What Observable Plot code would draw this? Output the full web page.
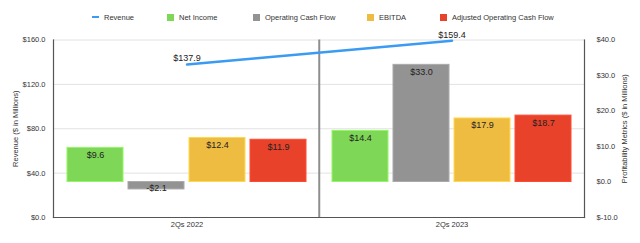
<!DOCTYPE html>
<html>
<head>
<meta charset="utf-8">
<script src="https://cdn.jsdelivr.net/npm/d3@7"></script>
<script src="https://cdn.jsdelivr.net/npm/@observablehq/plot@0.6"></script>
<style>
  body { margin: 0; background: #fff; font-family: "Liberation Sans", Arial, Helvetica, sans-serif; }
  #wrap { position: relative; width: 640px; height: 243px; overflow: hidden; }
  #legend { position: absolute; left: 0; top: 0; width: 640px; height: 30px; font-size: 7.5px; color: #333; }
  .item { position: absolute; top: 13px; height: 9px; line-height: 9px; white-space: nowrap; }
  .sw { display: inline-block; width: 7px; height: 7px; vertical-align: middle; margin-right: 5px; position: relative; top: -1px; }
  .ln { display: inline-block; width: 7px; height: 2px; vertical-align: middle; margin-right: 5px; position: relative; top: -1px; }
  .layer { position: absolute; left: 0; top: 30px; }
</style>
</head>
<body>
<div id="wrap">
  <div id="legend"></div>
  <div id="layerBottom" class="layer"></div>
  <div id="layerTop" class="layer"></div>
</div>
<script>
const categories = ["2Qs 2022", "2Qs 2023"];
const revenue = [137.9, 159.4];
const seriesNames = ["Net Income", "Operating Cash Flow", "EBITDA", "Adjusted Operating Cash Flow"];
const netIncome = [9.6, 14.4];
const operatingCashFlow = [-2.1, 33.0];
const ebitda = [12.4, 17.9];
const adjustedOperatingCashFlow = [11.9, 18.7];
const seriesColors = ["#7ed756", "#939393", "#efbc42", "#e9422a"];
const revenueColor = "#3b9bf3";
const leftTicks = [0, 40, 80, 120, 160];
const rightTicks = [-10, 0, 10, 20, 30, 40];

const seriesValues = [netIncome, operatingCashFlow, ebitda, adjustedOperatingCashFlow];
const rows = [];
categories.forEach((c, i) => {
  seriesNames.forEach((s, j) => rows.push({category: c, series: s, value: seriesValues[j][i]}));
});
const revRows = categories.map((c, i) => ({category: c, value: revenue[i]}));
const money = v => (v < 0 ? "-$" : "$") + Math.abs(v).toFixed(1);

// Legend
const legendItems = [
  {name: "Revenue", color: revenueColor, line: true, left: 92},
  {name: seriesNames[0], color: seriesColors[0], left: 167},
  {name: seriesNames[1], color: seriesColors[1], left: 253},
  {name: seriesNames[2], color: seriesColors[2], left: 367},
  {name: seriesNames[3], color: seriesColors[3], left: 440}
];
const legendEl = document.getElementById("legend");
legendItems.forEach(it => {
  const d = document.createElement("div");
  d.className = "item";
  d.style.left = it.left + "px";
  const s = document.createElement("span");
  s.className = it.line ? "ln" : "sw";
  s.style.background = it.color;
  d.appendChild(s);
  d.appendChild(document.createTextNode(it.name));
  legendEl.appendChild(d);
});

const common = {
  width: 640, height: 213,
  marginTop: 9.5, marginBottom: 26, marginLeft: 53, marginRight: 56,
};
const fontStyle = {fontFamily: "Liberation Sans, Arial, Helvetica, sans-serif", fontSize: "7.5px", color: "#333", background: "transparent"};

// Bottom layer: revenue scale, grid, frame, line
const plotBottom = Plot.plot({
  ...common,
  style: fontStyle,
  x: {type: "band", domain: categories, padding: 0, axis: null},
  y: {domain: [0, 160], axis: null},
  marks: [
    Plot.gridY(leftTicks.filter(d => d > 0), {stroke: "#e2e2e2", strokeOpacity: 1, strokeWidth: 1}),
    Plot.ruleX([categories[1]], {x: d => d, dx: -(640 - 53 - 56) / 4, stroke: "#8e8e8e", strokeWidth: 2}),
    Plot.frame({anchor: "left", stroke: "#555", strokeWidth: 1.2}),
    Plot.frame({anchor: "right", stroke: "#555", strokeWidth: 1.2}),
    Plot.frame({anchor: "bottom", stroke: "#555", strokeWidth: 1.2}),
    Plot.line(revRows, {x: "category", y: "value", stroke: revenueColor, strokeWidth: 2.5}),
    Plot.text(revRows, {x: "category", y: "value", text: d => money(d.value), dy: -6, fontSize: 9, fill: "#222"}),
    Plot.axisY({anchor: "left", ticks: leftTicks, tickFormat: d => "$" + d.toFixed(1), tickSize: 0, tickPadding: 8,
      label: "Revenue ($ in Millions)", labelAnchor: "center", labelArrow: "none", labelOffset: 41, fill: "#333"}),
    Plot.axisX({anchor: "bottom", tickSize: 0, tickPadding: 4, label: null, fill: "#333"})
  ]
});
document.getElementById("layerBottom").appendChild(plotBottom);

// Top layer: profitability bars
const plotTop = Plot.plot({
  ...common,
  style: fontStyle,
  fx: {domain: categories, padding: 0, axis: null},
  x: {domain: seriesNames, paddingInner: 0.085, paddingOuter: 0.18, axis: null},
  y: {domain: [-10, 40], axis: null},
  color: {domain: seriesNames, range: seriesColors},
  marks: [
    Plot.barY(rows, {fx: "category", x: "series", y: "value", fill: "series",
      stroke: d => d3.color(seriesColors[seriesNames.indexOf(d.series)]).brighter(0.4).formatHex(), strokeWidth: 1}),
    Plot.text(rows.filter(d => d.value >= 0), {fx: "category", x: "series", y: "value", text: d => money(d.value), dy: 7, fontSize: 9, fill: "#222"}),
    Plot.text(rows.filter(d => d.value < 0), {fx: "category", x: "series", y: "value", text: d => money(d.value), dy: -1, fontSize: 9, fill: "#222"}),
    Plot.axisY({anchor: "right", ticks: rightTicks, tickFormat: d => "$" + d.toFixed(1), tickSize: 0, tickPadding: 12,
      label: "Profitability Metrics ($ in Millions)", labelAnchor: "center", labelArrow: "none", labelOffset: 42, fill: "#333"})
  ]
});
document.getElementById("layerTop").appendChild(plotTop);
</script>
</body>
</html>
